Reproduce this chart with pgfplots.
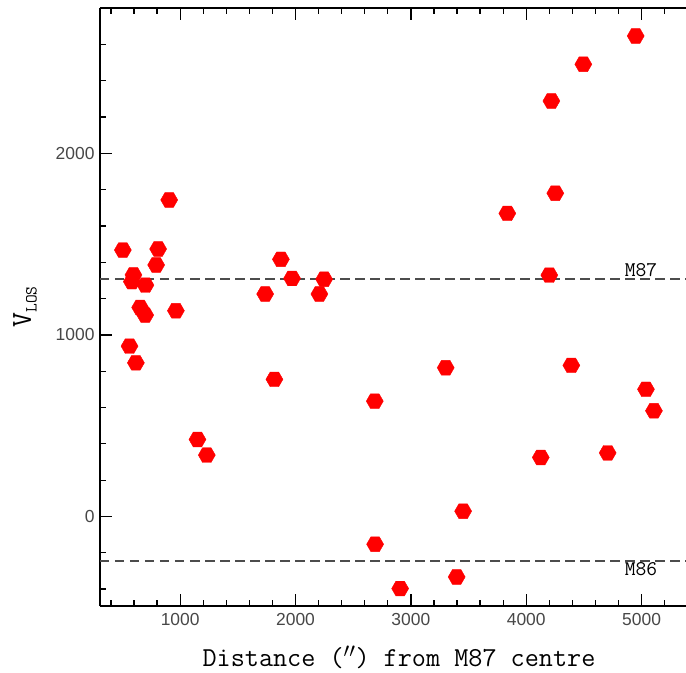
\documentclass[border=0pt]{standalone}
\usepackage{fontspec}
\setsansfont{Liberation Sans}
\usepackage{pgfplots}
\pgfplotsset{compat=1.18}
\pgfdeclareplotmark{hexagon*}{%
  \pgfpathmoveto{\pgfqpointpolar{0}{\pgfplotmarksize}}%
  \pgfpathlineto{\pgfqpointpolar{60}{\pgfplotmarksize}}%
  \pgfpathlineto{\pgfqpointpolar{120}{\pgfplotmarksize}}%
  \pgfpathlineto{\pgfqpointpolar{180}{\pgfplotmarksize}}%
  \pgfpathlineto{\pgfqpointpolar{240}{\pgfplotmarksize}}%
  \pgfpathlineto{\pgfqpointpolar{300}{\pgfplotmarksize}}%
  \pgfpathclose\pgfusepathqfillstroke}
\pgfplotstableread{
x y
905 1743
503 1467
809 1473
792 1385
595 1330
581 1293
699 1274
653 1151
697 1109
963 1133
561 938
616 846
1150 424
1231 338
1873 1416
1970 1311
1737 1225
2248 1306
2207 1225
1817 755
2687 635
3302 819
2690 -153
2907 -397
3397 -333
3453 29
4126 325
4706 350
4949 2646
4495 2490
4218 2288
4252 1780
3836 1669
4200 1329
4391 832
5038 700
5107 582
}\datatable
\begin{document}
\begin{tikzpicture}
\begin{axis}[
  name=ax,
  scale only axis, width=586bp, height=598bp,
  xmin=305, xmax=5385, ymin=-493, ymax=2800,
  axis x line*=box, axis y line*=left,
  xtick={1000,2000,3000,4000,5000},
  minor xtick={400,600,800,1200,1400,1600,1800,2200,2400,2600,2800,3200,3400,3600,3800,4200,4400,4600,4800,5200},
  ytick={0,1000,2000},
  minor ytick={-400,-200,200,400,600,800,1200,1400,1600,1800,2200,2400,2600},
  tick align=inside,
  major tick length=12bp, minor tick length=6bp,
  axis line style={line width=1.6bp, black},
  every tick/.style={black, line width=1.3bp},
  tick label style={font=\sffamily\fontsize{17.5}{20}\selectfont, text=black!72},
  /pgf/number format/assume math mode=true,
  scaled ticks=false, /pgf/number format/set thousands separator={},
  xticklabel style={yshift=-4bp},
  yticklabel style={xshift=-2bp},
  xlabel={Distance (${}''$) from M87 centre},
  xlabel style={font=\ttfamily\fontsize{27.5}{30}\selectfont, at={(axis description cs:0.5,0)}, anchor=center, yshift=-51bp, xshift=6bp},
  ylabel={V\raisebox{-0.45ex}{\fontsize{17}{18}\selectfont LOS}},
  ylabel style={font=\ttfamily\fontsize{29}{30}\selectfont, at={(axis description cs:0,0.5)}, anchor=center, yshift=75bp},
]
\addplot[black!70, line width=1.6bp, dash pattern=on 9.5bp off 5.5bp] coordinates {(305,1307) (5385,1307)};
\addplot[black!70, line width=1.6bp, dash pattern=on 9.5bp off 5.5bp] coordinates {(305,-244) (5385,-244)};
\addplot[only marks, mark=hexagon*, mark size=8.5bp, red, mark options={fill=red, draw=red}] table[x=x,y=y] {\datatable};
\node[font=\ttfamily\fontsize{21}{24}\selectfont] at (axis cs:4995,1357) {M87};
\node[font=\ttfamily\fontsize{21}{24}\selectfont] at (axis cs:4995,-289) {M86};
\end{axis}
\pgfresetboundingbox
\useasboundingbox ([shift={(-100bp,-67bp)}]ax.south west) rectangle ++(686bp,673bp);
\end{tikzpicture}
\end{document}
